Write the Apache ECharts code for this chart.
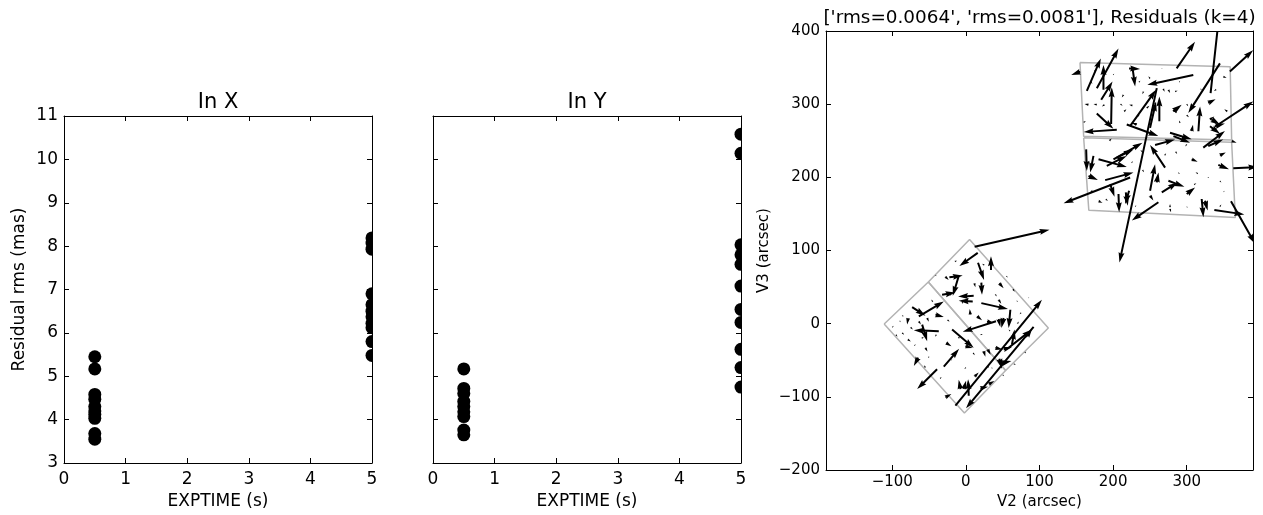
<!DOCTYPE html>
<html>
<head>
<meta charset="utf-8">
<script src="https://cdn.jsdelivr.net/npm/echarts@6/dist/echarts.min.js"></script>
<style>
  html, body { margin: 0; padding: 0; background: #fff; }
  #chart { width: 1263px; height: 515px; }
</style>
</head>
<body>
<div id="chart"></div>
<script>
// ---- Residual rms per exposure (mas), grouped by EXPTIME (s) ----
const rmsX_short = [5.45, 5.17, 4.58, 4.47, 4.3, 4.2, 4.12, 4.03, 3.68, 3.55];
const rmsX_long  = [8.19, 8.07, 7.93, 6.9, 6.65, 6.5, 6.37, 6.22, 6.12, 5.8, 5.48];
const rmsY_short = [5.17, 4.72, 4.6, 4.42, 4.3, 4.18, 4.07, 3.76, 3.65];
const rmsY_long  = [10.58, 10.14, 8.03, 7.8, 7.58, 7.08, 6.54, 6.24, 5.62, 5.2, 4.75];
const exptimeShort = 0.5;
const exptimeLong = 5;

// ---- Tick values ----
const exptimeTicks = [0, 1, 2, 3, 4, 5];
const rmsTicks = [3, 4, 5, 6, 7, 8, 9, 10, 11];
const v2Ticks = [-100, 0, 100, 200, 300];
const v3Ticks = [-200, -100, 0, 100, 200, 300, 400];
const v2Range = [-190, 390];
const v3Range = [-200, 400];

// ---- Residual vectors: [V2, V3, dV2, dV3] in arcsec (scaled residuals) ----
const residualsModuleA = [
  [11.9, 105, 101.7, 23.4], [16.1, 96.8, -24.9, -18.1], [34.1, 73.3, 0, 19],
  [16.5, 83.2, 8.2, -23.5], [21.0, 56.1, 0.9, -16.7], [-22.4, 63.3, 18.1, 2.7],
  [-9.7, 65.1, -8.1, -27.1], [10.6, 38, -21.2, -0.9], [9.3, 30.3, -19, 0.9],
  [21, 28.1, 36.2, -8.2], [60.4, 19, -2.3, -24.8], [51.3, 7.7, -3.1, -13.5],
  [44.5, 6.4, 2.3, -10.8], [-63.9, 10, 33.9, 20.3], [-73, 22.7, 18.1, -11.8],
  [-32.3, 39.4, 18.1, 3.2], [6.1, 12.3, -0.9, 7.7], [40.9, 3.2, -45.2, -14.4],
  [-18.7, -8.1, 29.3, -24.8], [-36.8, -10.3, -33.9, 1.3], [-59.4, -1.3, 6.8, -22.6],
  [-30, -58.7, 20.8, 24.4], [-39.1, -62.3, -27.1, -27.1], [-64.8, -46.5, -5.9, -11.3],
  [62.6, -28.4, 3.6, 20.3], [-14.2, -112, 117.5, 144.6], [92, -4.5, -91.8, -111.2],
  [83, -17.1, 6.8, 9.9], [48.2, -54.2, 13.6, 3.2], [45.4, -47.9, 3.6, -13.6],
  [3.9, -98.5, -0.9, 22.6], [-7.4, -89.4, -2.3, 12.7], [-2.9, -89.4, 3.2, 11.3],
  [12, -72.3, 5.4, 5.4], [19.7, -88.5, 10.4, 2.3], [-27.8, -100.7, 8.1, 4.5],
  [31, -82.7, 7.7, 4.5], [11.5, 55.2, 1.4, -5.4], [45.4, 55.2, 5.9, -6.8],
  [64, 47.1, 2.3, -3.6], [-41.3, 66.5, 1.4, -1.8], [-41.3, 12.3, 11.3, -3.2],
  [15.2, 10, 6.8, -5.4], [28.7, 3.2, 9, -2.3], [-78.4, 7.7, -1.4, -9],
  [-86.5, -12.6, 2.7, -2.7], [-78.9, -21.6, 4.1, -2.7], [-52.6, 7.7, 2.3, -5],
  [-63.9, 3.2, 2.7, -4.5], [-26.9, -26.2, 7.2, -4.5], [-54.9, -33, 2.7, -5],
  [-0.7, -30.7, 9.9, -2.7], [24.2, -37.5, 2.3, -7.7], [29.6, -35.2, 4.1, -7.2],
  [40, -33, 9.9, -2.3], [51.3, -35.2, 11.3, 3.2], [44.5, 32.6, 3.6, -5.4],
  [-27.8, 64.2, 4.5, -4.5], [58, -33, 31.7, 24.9], [-90, 4, 1.5, -2],
  [-70, -30, 2, 2], [-20, -50, 1.5, 1.5], [70, 30, -1, 2], [-5, 30, 1, -3],
  [50, -70, 2, -2], [-50, -45, -1.5, -2], [85, 35, 1, 1], [35, -60, 1, -2],
  [-45, 30, -2, 3], [-95, -15, 2, -3], [-85, 10, -2, 2], [-60, -20, 3, 2],
  [-40, -15, -2, -3], [-25, 5, 3, -2], [-10, -20, 2, 3], [0, -60, -2, -2],
  [20, -15, 3, 1], [30, -60, 1, 3], [60, -10, -2, 2], [70, 0, 2, 3],
  [25, 80, -3, 2], [40, 40, 2, -3], [-15, 85, 3, 1], [55, 65, 2, -2],
  [-35, -75, 2, 2], [-55, -60, -2, 3], [65, -55, 3, -1], [80, -40, 2, 2],
  [5, -110, 2, -2], [-75, -5, 3, -3], [-100, -5, 2, 2], [-20, 40, -2, -2],
  [10, -40, 2, -3], [75, 15, -2, -2]
];

const residualsModuleB = [
  [332.4, 315.1, 11.8, 108.5], [286.3, 349, 24.9, 36.2], [358.6, 344.5, 31.7, 29.4],
  [342.8, 272.2, 47.5, 31.6], [308.9, 340, -62.4, -13.6], [345.1, 355.8, -43, -67.8],
  [223, 269.9, 35.3, 49.8], [259.3, 321.9, -50.7, -238.2], [262.8, 276.7, 0, 33.9],
  [218.5, 272.2, 42.9, -15.8], [205, 265, -45, -3], [164.3, 318.2, 19, 44.3],
  [177.9, 321.8, 29.4, 54.2], [186.9, 319.6, 0, 33.9], [183.8, 306, 15.4, 24.9],
  [155.3, 344.4, -12.2, -4.5], [226.3, 349.8, 3.6, -25.8], [221.7, 348.9, 14.9, -0.9],
  [197.3, 273, 0.9, 50], [250.2, 267.6, 8.1, 36.2], [315.8, 263, 2.3, 33.9],
  [177.8, 287.1, 22.6, -20.8], [166.6, 299.2, -5.4, 0.9], [177.9, 299.2, -4.5, 0.9],
  [188.3, 299.2, -3.6, -2.3], [214.1, 312.8, -2.3, -3.6], [226.3, 298.3, -4.5, 0.9],
  [241.2, 317.3, -1.4, -3.6], [275.1, 319.6, 2.3, -4.5], [284.1, 317.3, 3.6, 0.9],
  [266, 349, 0.9, -0.9], [349.7, 337.6, 4.5, -1.4], [290.9, 274.4, -1.4, 3.2],
  [333.8, 278.9, 11.3, -6.8], [232.1, 272.1, -6.8, 2.3], [245.7, 294.7, 3.6, 3.2],
  [277.3, 260.9, 29.4, -9], [322.5, 240.6, 29.4, 22.6], [329.2, 242.8, 20.3, 9],
  [338.3, 269.9, 13.6, 3.6], [360.9, 249.6, 6.8, -2.3], [270.6, 213.3, -20.4, 30.8],
  [200.5, 224.6, 39.3, 22.6], [205, 226.9, 22.6, 11.3], [180.2, 224.6, 38.4, -10.4],
  [163.4, 238.2, 0.9, -29.4], [166.6, 202.1, 12.7, -5.9], [189.2, 196.2, 38.4, 10.4],
  [223.1, 199.8, -90.4, -35.3], [196, 190.7, 5.9, -17.2], [207.3, 177.2, 0.9, -24.9],
  [217.2, 179.4, 2.7, -18.1], [221.7, 181.7, -5.4, -18.1], [261.5, 165.9, -36.1, -24.9],
  [250.2, 181.7, 6.8, 36.2], [259.3, 193, 2.3, 13.6], [266.1, 179.4, 21.7, 13.6],
  [275.1, 195.3, 21.7, -8.1], [300, 177.2, 11.3, 9], [320.3, 170.4, 2.3, -24.9],
  [324.8, 168.1, 3.6, -13.6], [337.5, 155.5, 40.7, -6.3], [360.1, 167.2, 32.5, -57.9],
  [363.2, 212.4, 33.9, 1.8], [342.9, 217, 14.5, -5.9], [306.7, 224.6, 8.1, -3.2],
  [277.3, 156.8, 1.4, -4.5], [180.2, 167.2, 5.4, -1.8], [257, 244.1, 27.1, 7.7],
  [281.9, 256.3, 22.6, -9], [331.6, 269.8, 13.6, -10.4], [306.7, 263, 1.8, 9],
  [277.3, 159.2, 0, 4.5], [182.4, 166.9, -2.3, 2.3], [250.2, 175, 4.5, -6.8],
  [240, 210, 2, -3], [290, 205, -2, 2], [310, 190, 3, 2], [345, 195, 2, -2],
  [170, 180, 2, 3], [230, 160, 1.5, 2], [300, 160, 1, -2], [330, 200, -2, -1],
  [350, 180, 1.5, 1.5], [235, 330, 2, 2], [300, 300, 2, -3], [320, 320, -2, 1],
  [255, 300, 2, 2], [170, 330, 2, -2], [200, 340, 1.5, 1.5], [290, 330, 1, 2],
  [329.2, 301.6, 10, 5], [331.5, 279, 6, 4], [281.8, 292.5, 5, -5], [268, 321, 2, -4],
  [281.8, 290.3, 11.3, 9], [191.4, 215.7, 27, 13.6], [173.3, 229.3, -4.5, -22.6],
  [345, 230, 8, 4], [355, 290, -4, 3], [300, 285, 3, -3], [235, 285, -3, -3],
  [210, 300, 3, -2], [195, 250, 3, 3], [240, 235, -3, 2], [285, 235, 2, -3],
  [315, 205, -3, 2], [345, 160, 2, 3], [190, 170, 3, -2], [225, 220, 2, 2],
  [300, 245, -2, -3], [160, 275, 3, 2], [175, 345, 3, 3], [250, 335, -2, 3],
  [215, 290, 3, 3], [340, 320, -3, -2], [270, 230, 2, 3]
];

// ---- Detector footprints (V2, V3 corners) ----
const footprintA1 = [[-111, -0.5], [-51, 57], [54, -64], [-2, -122]];
const footprintA2 = [[-51, 57], [5, 115], [112, -6], [54, -64]];
const footprintB1 = [[155, 357], [359, 351], [361, 251], [160, 256]];
const footprintB2 = [[160, 254], [361, 248], [366, 145], [167, 155]];

const FONT = 'DejaVu Sans';
const grids = [
  { left: 64, top: 116, width: 308, height: 349 },
  { left: 433, top: 116, width: 308, height: 349 },
  { left: 826, top: 31, width: 427, height: 442 }
];

const minusFmt = v => (v < 0 ? '\u2212' + Math.abs(v) : String(v));

function baseAxis(extra, fontSize) {
  return Object.assign({
    type: 'value',
    axisLine: { show: true, onZero: false, lineStyle: { color: '#000', width: 1 } },
    axisTick: { show: true, inside: true, length: 5, lineStyle: { color: '#000', width: 1 } },
    axisLabel: { show: true, color: '#000', fontFamily: FONT, fontSize: fontSize, margin: 7 },
    splitLine: { show: false },
    nameTextStyle: { color: '#000', fontFamily: FONT, fontSize: fontSize }
  }, extra);
}

function hideLabels(ax) {
  ax.axisLabel = Object.assign({}, ax.axisLabel, { show: false });
  return ax;
}

function rmsPanelAxes(gi, showYLabels) {
  const xs = {
    gridIndex: gi, min: exptimeTicks[0], max: exptimeTicks[exptimeTicks.length - 1], interval: 1,
    name: 'EXPTIME (s)', nameLocation: 'middle', nameGap: 30
  };
  const ys = {
    gridIndex: gi, min: rmsTicks[0], max: rmsTicks[rmsTicks.length - 1], interval: 1
  };
  const xb = baseAxis(Object.assign({ position: 'bottom' }, xs), 17);
  xb.axisLabel.margin = 8;
  const xt = hideLabels(baseAxis({ gridIndex: gi, min: xs.min, max: xs.max, interval: 1, position: 'top' }, 17));
  const yl = baseAxis(Object.assign({ position: 'left' }, ys), 17);
  if (showYLabels) {
    yl.name = 'Residual rms (mas)';
    yl.nameLocation = 'middle';
    yl.nameGap = 36;
    yl.axisLabel.margin = 6;
  } else {
    hideLabels(yl);
  }
  const yr = hideLabels(baseAxis(Object.assign({ position: 'right' }, ys), 17));
  return { x: [xb, xt], y: [yl, yr] };
}

const p1 = rmsPanelAxes(0, true);
const p2 = rmsPanelAxes(1, false);

const x3b = baseAxis({
  gridIndex: 2, position: 'bottom', min: v2Range[0], max: v2Range[1],
  name: 'V2 (arcsec)', nameLocation: 'middle', nameGap: 25
}, 15);
x3b.axisTick.customValues = v2Ticks;
x3b.axisLabel.customValues = v2Ticks;
x3b.axisLabel.formatter = minusFmt;
x3b.axisLabel.margin = 5;
const x3t = hideLabels(baseAxis({ gridIndex: 2, position: 'top', min: v2Range[0], max: v2Range[1] }, 15));
x3t.axisTick.customValues = v2Ticks;
x3t.axisLabel.customValues = v2Ticks;

const y3l = baseAxis({
  gridIndex: 2, position: 'left', min: v3Range[0], max: v3Range[1], interval: 100,
  name: 'V3 (arcsec)', nameLocation: 'middle', nameGap: 54
}, 15);
y3l.axisLabel.formatter = minusFmt;
y3l.axisLabel.margin = 6;
const y3r = hideLabels(baseAxis({ gridIndex: 2, position: 'right', min: v3Range[0], max: v3Range[1], interval: 100 }, 15));

// Filled dots; drawn as custom shapes so that the plot frame clips them
function dotSeries(xi, yi, xVal, values) {
  return {
    type: 'custom', xAxisIndex: xi, yAxisIndex: yi, clip: true, z: 3,
    data: values.map(v => [xVal, v]),
    renderItem: (params, api) => {
      const p = api.coord([api.value(0), api.value(1)]);
      return { type: 'circle', shape: { cx: p[0], cy: p[1], r: 6.5 }, style: { fill: '#000' } };
    }
  };
}

// Quiver-style arrow polygon between two pixel points
function arrowPoints(p0, p1, w) {
  const dx = p1[0] - p0[0], dy = p1[1] - p0[1];
  let len = Math.hypot(dx, dy);
  if (len < 1e-6) return null;
  const ux = dx / len, uy = dy / len;
  const hl = 5 * w, hal = 4.5 * w, hw = 1.5 * w, sw = 0.5 * w;
  let s = 1;
  if (len < hl) { s = len / hl; len = hl; }
  const local = [
    [0, -sw], [len - hal, -sw], [len - hl, -hw], [len, 0],
    [len - hl, hw], [len - hal, sw], [0, sw]
  ];
  return local.map(([a, b]) => [
    p0[0] + s * (a * ux - b * uy),
    p0[1] + s * (a * uy + b * ux)
  ]);
}

function quiverSeries(rows) {
  return {
    type: 'custom', xAxisIndex: 4, yAxisIndex: 4, clip: true, z: 4,
    data: rows,
    renderItem: (params, api) => {
      const x = api.value(0), y = api.value(1), u = api.value(2), v = api.value(3);
      const p0 = api.coord([x, y]);
      const p1 = api.coord([x + u, y + v]);
      const pts = arrowPoints(p0, p1, 2);
      if (!pts) return null;
      return { type: 'polygon', shape: { points: pts }, style: { fill: '#000', stroke: null } };
    }
  };
}

function footprintSeries(corners) {
  return {
    type: 'line', xAxisIndex: 4, yAxisIndex: 4, z: 2,
    data: corners.concat([corners[0]]),
    symbol: 'none', silent: true, animation: false,
    lineStyle: { color: '#b3b3b3', width: 1.5 }
  };
}

const chart = echarts.init(document.getElementById('chart'), null, { renderer: 'canvas' });
chart.setOption({
  animation: false,
  backgroundColor: '#fff',
  title: [
    { text: 'In X', left: grids[0].left + grids[0].width / 2, top: 92, textAlign: 'center', padding: 0,
      textStyle: { fontFamily: FONT, fontSize: 21, fontWeight: 'normal', color: '#000' } },
    { text: 'In Y', left: grids[1].left + grids[1].width / 2, top: 92, textAlign: 'center', padding: 0,
      textStyle: { fontFamily: FONT, fontSize: 21, fontWeight: 'normal', color: '#000' } },
    { text: "['rms=0.0064', 'rms=0.0081'], Residuals (k=4)", left: grids[2].left + grids[2].width / 2, top: 9,
      textAlign: 'center', padding: 0,
      textStyle: { fontFamily: FONT, fontSize: 18.4, fontWeight: 'normal', color: '#000' } }
  ],
  grid: grids,
  xAxis: [p1.x[0], p1.x[1], p2.x[0], p2.x[1], x3b, x3t],
  yAxis: [p1.y[0], p1.y[1], p2.y[0], p2.y[1], y3l, y3r],
  series: [
    dotSeries(0, 0, exptimeShort, rmsX_short),
    dotSeries(0, 0, exptimeLong, rmsX_long),
    dotSeries(2, 2, exptimeShort, rmsY_short),
    dotSeries(2, 2, exptimeLong, rmsY_long),
    footprintSeries(footprintA1),
    footprintSeries(footprintA2),
    footprintSeries(footprintB1),
    footprintSeries(footprintB2),
    quiverSeries(residualsModuleA),
    quiverSeries(residualsModuleB)
  ]
});
</script>
</body>
</html>
